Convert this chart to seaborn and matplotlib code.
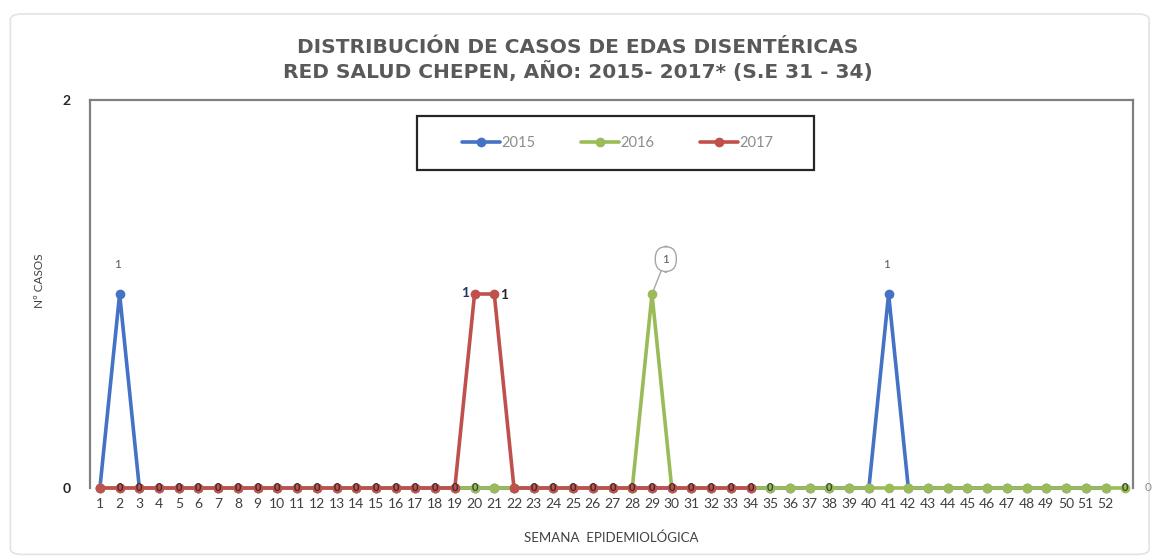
import pandas as pd
import matplotlib.pyplot as plt
import seaborn as sns
from matplotlib.patches import FancyBboxPatch, Rectangle

# Datos: casos de EDAs disentéricas por semana epidemiológica
semanas_2015 = list(range(1, 53))
casos_2015 = [0, 1, 0, 0, 0, 0, 0, 0, 0, 0,
              0, 0, 0, 0, 0, 0, 0, 0, 0, 0,
              0, 0, 0, 0, 0, 0, 0, 0, 0, 0,
              0, 0, 0, 0, 0, 0, 0, 0, 0, 0,
              1, 0, 0, 0, 0, 0, 0, 0, 0, 0,
              0, 0]
semanas_2016 = list(range(1, 54))
casos_2016 = [0, 0, 0, 0, 0, 0, 0, 0, 0, 0,
              0, 0, 0, 0, 0, 0, 0, 0, 0, 0,
              0, 0, 0, 0, 0, 0, 0, 0, 1, 0,
              0, 0, 0, 0, 0, 0, 0, 0, 0, 0,
              0, 0, 0, 0, 0, 0, 0, 0, 0, 0,
              0, 0, 0]
semanas_2017 = list(range(1, 35))
casos_2017 = [0, 0, 0, 0, 0, 0, 0, 0, 0, 0,
              0, 0, 0, 0, 0, 0, 0, 0, 0, 1,
              1, 0, 0, 0, 0, 0, 0, 0, 0, 0,
              0, 0, 0, 0]
etiquetas_x = [str(s) for s in range(1, 53)]
anios = ['2015', '2016', '2017']
colores = {'2015': '#4472C4', '2016': '#9BBB59', '2017': '#C0504D'}

df = pd.concat([
    pd.DataFrame({'semana': semanas_2015, 'casos': casos_2015, 'anio': '2015'}),
    pd.DataFrame({'semana': semanas_2016, 'casos': casos_2016, 'anio': '2016'}),
    pd.DataFrame({'semana': semanas_2017, 'casos': casos_2017, 'anio': '2017'}),
])

sns.set_style('white')
plt.rcParams['font.family'] = ['Lato', 'DejaVu Sans']

fig = plt.figure(figsize=(11.56, 5.6), dpi=100)
marco = FancyBboxPatch((0.009, 0.01), 0.985, 0.965, boxstyle='round,pad=0,rounding_size=0.01',
                       transform=fig.transFigure, fc='white', ec='#e3e3e3', lw=1.2, zorder=-10)
fig.patches.append(marco)
ax = fig.add_axes([0.0779, 0.1286, 0.9023, 0.6928])
ax.patch.set_alpha(0)

sns.lineplot(data=df, x='semana', y='casos', hue='anio', hue_order=anios, palette=colores,
             marker='o', markersize=7, markeredgewidth=0, linewidth=2.6, ax=ax)

ax.set_xlim(0.5, 53.4)
ax.set_ylim(0, 2)
ax.set_yticks([0, 2])
ax.set_yticklabels(['0', '2'], fontsize=10, fontweight='bold', color='#262626')
ax.set_xticks(range(1, 53))
ax.set_xticklabels(etiquetas_x, fontsize=10, color='#404040')
ax.tick_params(length=0, pad=7)
ax.tick_params(axis='y', pad=14)
for side in ['left', 'right', 'top']:
    ax.spines[side].set_color('#808080')
    ax.spines[side].set_linewidth(1.6)
ax.spines['bottom'].set_visible(False)
for ln in ax.lines:
    ln.set_clip_on(False)

# Etiquetas de datos "0" superpuestas en los marcadores
for s, c in zip(semanas_2017, casos_2017):
    if c == 0 and s not in (1, 22):
        ax.text(s, c, '0', ha='center', va='center', fontsize=8, fontweight='bold', color='#3d2b2b')
for s in [20, 35, 38, 53]:
    ax.text(s, 0, '0', ha='center', va='center', fontsize=8, fontweight='bold', color='#3b4a2e')
ax.text(54.0, 0, '0', ha='left', va='center', fontsize=8.5, color='#8c8c8c', clip_on=False)

# Etiquetas "1"
for s in [2, 41]:
    ax.text(s - 0.1, 1.15, '1', ha='center', va='center', fontsize=8.5, color='#595959')
ax.text(19.7, 1.005, '1', ha='right', va='center', fontsize=10, fontweight='bold', color='#1F3864')
ax.text(21.3, 0.995, '1', ha='left', va='center', fontsize=10, fontweight='bold', color='#262626')
ax.annotate('1', xy=(29, 1), xytext=(29.7, 1.18), ha='center', va='center', fontsize=8.5, color='#595959',
            bbox=dict(boxstyle='round,pad=0.6,rounding_size=1.0', fc='white', ec='#a6a6a6', lw=1),
            arrowprops=dict(arrowstyle='-', color='#a6a6a6', lw=1, shrinkA=0, shrinkB=2))

ax.set_xlabel('SEMANA  EPIDEMIOLÓGICA', fontsize=9.5, color='#404040', labelpad=16)
ax.set_ylabel('Nº CASOS', fontsize=8.5, color='#404040')
ax.yaxis.set_label_coords(-0.043, 0.535)

fig.text(0.5, 0.893, 'DISTRIBUCIÓN DE CASOS DE EDAS DISENTÉRICAS\nRED SALUD CHEPEN, AÑO: 2015- 2017* (S.E 31 - 34)',
         ha='center', va='center', fontsize=14.5, fontweight='bold', color='#595959', linespacing=1.2,
         family='DejaVu Sans')

# Leyenda con recuadro propio
ax.add_patch(Rectangle((0.3135, 0.8196), 0.3806, 0.1392, transform=ax.transAxes, fill=False,
                       ec='#262626', lw=1.6, zorder=5, clip_on=False))
handles, labels = ax.get_legend_handles_labels()
ax.legend(handles, labels, loc='center', bbox_to_anchor=(0.5058, 0.889), ncol=3, frameon=False,
          fontsize=10.5, columnspacing=3.1, handlelength=2.6, handletextpad=0.1,
          labelcolor='#8c8c8c')

fig.savefig('out.png', dpi=100)
